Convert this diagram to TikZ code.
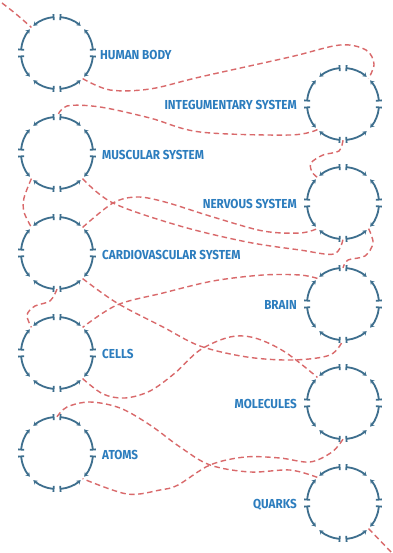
\documentclass[tikz,border=0pt]{standalone}
\usepackage{fontspec}
\newfontfamily\labfont[FakeStretch=0.9]{Fira Sans}
\usetikzlibrary{arrows.meta}
\definecolor{ringblue}{HTML}{3E6F8E}
\definecolor{labblue}{HTML}{2C7DBE}
\definecolor{linkred}{HTML}{D9696B}
\begin{document}
\begin{tikzpicture}[x=1pt,y=-1pt,
  lvl/.style={circle, minimum size=72pt, inner sep=0pt},
  lbl/.style={font=\labfont\bfseries\fontsize{13}{13}\selectfont, text=labblue, inner sep=0pt},
  link/.style={linkred, line width=1.4pt, dash pattern=on 5.5pt off 3.5pt},
  ringarc/.style={ringblue, line width=1.8pt},
  pics/ring/.style={code={
    \foreach \a [evaluate=\a as \s using \a+4, evaluate=\a as \e using \a+41,
                 evaluate=\a as \t using \a+49, evaluate=\a as \f using \a+86] in {0,90,180,270}{
      \draw[ringarc, {Bar[width=6pt]}-{Stealth[length=4pt,width=5pt]}] (\s:36) arc[start angle=\s, end angle=\e, radius=36];
      \draw[ringarc, {Stealth[length=4pt,width=5pt]}-{Bar[width=6pt]}] (\t:36) arc[start angle=\t, end angle=\f, radius=36];
    }
  }}]
\useasboundingbox (0,0) rectangle (392,553);
\fill[white] (0,0) rectangle (392,553);

\node[lvl] (h)  at (57,53)   {};
\node[lvl] (i)  at (343,104) {};
\node[lvl] (m)  at (57,153)  {};
\node[lvl] (n)  at (343,203) {};
\node[lvl] (c)  at (57,253)  {};
\node[lvl] (b)  at (343,304) {};
\node[lvl] (cl) at (57,353)  {};
\node[lvl] (mo) at (343,403) {};
\node[lvl] (a)  at (57,453)  {};
\node[lvl] (q)  at (343,503) {};
\coordinate (s0) at (2,3);
\coordinate (s1) at (392,553);

% dashed links
\draw[link] plot[smooth, tension=0.55] coordinates {(s0) (16,14) (h.135)};
\draw[link] plot[smooth, tension=0.55] coordinates {(h.-45) (110,90) (150,89) (200,77) (290,57) (340,45) (366,50) (374,64) (i.45)};
\draw[link] plot[smooth, tension=0.55] coordinates {(i.-135) (290,135) (200,132) (150,118) (100,107) (67,106) (m.90)};
\draw[link] plot[smooth, tension=0.55] coordinates {(i.-90) (339,151) (323,155) (311,163) (312,172) (n.135)};
\draw[link] plot[smooth, tension=0.55] coordinates {(m.-135) (24,198) (24,212) (c.135)};
\draw[link] plot[smooth, tension=0.55] coordinates {(m.-45) (113,203) (180,226) (247,242) (300,250) (334,254) (n.-90)};
\draw[link] plot[smooth, tension=0.55] coordinates {(n.-45) (373,243) (365,256) (348,260) (b.90)};
\draw[link] plot[smooth, tension=0.55] coordinates {(c.45) (113,203) (137,197) (165,202) (213,217) (263,231) (300,233) (n.-135)};
\draw[link] plot[smooth, tension=0.55] coordinates {(c.-90) (50,301) (35,306) (27,315) (cl.135)};
\draw[link] plot[smooth, tension=0.55] coordinates {(c.-45) (117,303) (163,327) (200,346) (247,357) (293,360) (330,355) (b.-90)};
\draw[link] plot[smooth, tension=0.55] coordinates {(b.135) (300,275) (263,275) (213,281) (163,293) (117,305) (cl.45)};
\draw[link] plot[smooth, tension=0.55] coordinates {(cl.-45) (103,394) (125,398) (150,391) (175,373) (200,350) (230,337) (255,338) (285,352) (mo.135)};
\draw[link] plot[smooth, tension=0.55] coordinates {(mo.-90) (332,452) (310,462) (280,458) (245,457) (210,465) (178,485) (160,490) (127,494) (a.-45)};
\draw[link] plot[smooth, tension=0.55] coordinates {(a.90) (67,407) (90,402) (120,408) (150,425) (180,447) (210,465) (250,472) (290,470) (q.135)};
\draw[link] plot[smooth, tension=0.55] coordinates {(q.-45) (s1)};

% rings
\foreach \r in {h,i,m,n,c,b,cl,mo,a,q} { \pic at (\r) {ring}; }

% labels
\node[lbl, anchor=base west] (lh)  at (100,59.5)  {HUMAN BODY};
\node[lbl, anchor=base west] (lm)  at (102,159.5) {MUSCULAR SYSTEM};
\node[lbl, anchor=base west] (lc)  at (102,259.5) {CARDIOVASCULAR SYSTEM};
\node[lbl, anchor=base west] (lcl) at (102,358.5) {CELLS};
\node[lbl, anchor=base west] (la)  at (102,459.5) {ATOMS};
\node[lbl, anchor=base east] (li)  at (297,109.5) {INTEGUMENTARY SYSTEM};
\node[lbl, anchor=base east] (ln)  at (297,208.5) {NERVOUS SYSTEM};
\node[lbl, anchor=base east] (lb)  at (297,309.5) {BRAIN};
\node[lbl, anchor=base east] (lmo) at (297,408.5) {MOLECULES};
\node[lbl, anchor=base east] (lq)  at (297,508.5) {QUARKS};
\end{tikzpicture}
\end{document}
